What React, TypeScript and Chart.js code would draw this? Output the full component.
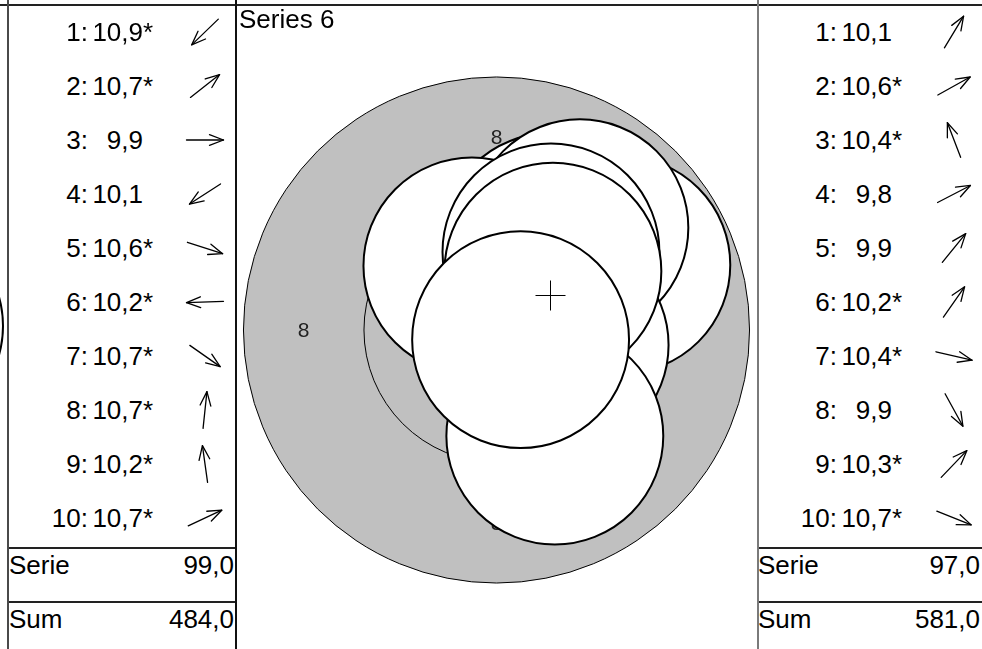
import React, { useEffect, useRef } from "react";
import { Chart, registerables } from "chart.js";

Chart.register(...registerables);

// ---------- data ----------
const seriesTitle = "Series 6";

// previous series (left panel)
const leftScores = [10.9, 10.7, 9.9, 10.1, 10.6, 10.2, 10.7, 10.7, 10.2, 10.7];
const leftArrowAngles = [224, 38, 0, 213, -18, 182, -35, 84, 98, 25]; // degrees, direction of the hit
const leftRunningSum = 484.0;

// current series (right panel + target)
const rightScores = [10.1, 10.6, 10.4, 9.8, 9.9, 10.2, 10.4, 9.9, 10.3, 10.7];
const shotX = [1.11, 0.79, -0.51, 2.6, 1.73, 1.13, 1.32, 1.21, 1.17, 0.5]; // mm
const shotY = [1.83, 0.44, 1.33, 1.35, 2.12, 1.62, -0.31, -2.2, 1.22, -0.2]; // mm
const rightRunningSum = 581.0;

// target geometry (mm)
const ringRadii = [5.25, 2.75, 0.25]; // ring 8, 9, 10
const ringLabelText = "8";
const ringLabelRadius = 4.0;
const shotRadius = 2.25;

// visible window of the target (mm)
const X_HALF = 5.384;
const Y_HALF = 6.722;

const FONT = '"Liberation Sans", Arial, Helvetica, sans-serif';
const TEXT_SIZE = 26;

const fmt = (v: number) => v.toFixed(1).replace(".", ",");
const isInner = (v: number) => v >= 10.2;
const serieTotal = (arr: number[]) => arr.reduce((s, v) => s + Math.floor(v), 0);

const radiusPx = (chart: any) => {
  const s = chart && chart.scales && chart.scales.x;
  if (!s || !s.width) return 0;
  const r = Math.abs(s.getPixelForValue(shotRadius) - s.getPixelForValue(0));
  return isFinite(r) ? r : 0;
};

const targetPlugin = {
  id: "targetRings",
  beforeDatasetsDraw(chart: any) {
    const { ctx, scales } = chart;
    const x = scales.x;
    const y = scales.y;
    const cx = x.getPixelForValue(0);
    const cy = y.getPixelForValue(0);
    const pxPerMm = x.getPixelForValue(1) - cx;
    ctx.save();
    ringRadii.forEach((r, i) => {
      ctx.beginPath();
      ctx.arc(cx, cy, r * pxPerMm, 0, Math.PI * 2);
      if (i === 0) {
        ctx.fillStyle = "#c0c0c0";
        ctx.fill();
      }
      ctx.lineWidth = 1;
      ctx.strokeStyle = "#000";
      ctx.stroke();
    });
    ctx.font = `21px ${FONT}`;
    ctx.fillStyle = "#222";
    ctx.textAlign = "center";
    ctx.textBaseline = "middle";
    const dirs = [
      [1, 0],
      [-1, 0],
      [0, 1],
      [0, -1],
    ];
    dirs.forEach(([dx, dy]) => {
      ctx.fillText(
        ringLabelText,
        x.getPixelForValue(dx * ringLabelRadius),
        y.getPixelForValue(dy * ringLabelRadius) + 1
      );
    });
    ctx.restore();
  },
  afterDatasetsDraw(chart: any) {
    const { ctx, scales } = chart;
    const mx = shotX.reduce((a, b) => a + b, 0) / shotX.length;
    const my = shotY.reduce((a, b) => a + b, 0) / shotY.length;
    const px = Math.round(scales.x.getPixelForValue(mx)) + 0.5;
    const py = Math.round(scales.y.getPixelForValue(my)) + 0.5;
    const arm = 15;
    ctx.save();
    ctx.strokeStyle = "#000";
    ctx.lineWidth = 1;
    ctx.beginPath();
    ctx.moveTo(px - arm, py);
    ctx.lineTo(px + arm, py);
    ctx.moveTo(px, py - arm);
    ctx.lineTo(px, py + arm);
    ctx.stroke();
    ctx.restore();
  },
};

function Arrow({ cx, cy, angle }: { cx: number; cy: number; angle: number }) {
  const L = 37;
  const a = (angle * Math.PI) / 180;
  const ux = Math.cos(a);
  const uy = -Math.sin(a);
  const c = 24;
  const tx = c + (ux * L) / 2;
  const ty = c + (uy * L) / 2;
  const sx = c - (ux * L) / 2;
  const sy = c - (uy * L) / 2;
  const head = 15;
  const spread = (21 * Math.PI) / 180;
  const back = Math.atan2(-uy, -ux);
  const h1x = tx + head * Math.cos(back + spread);
  const h1y = ty + head * Math.sin(back + spread);
  const h2x = tx + head * Math.cos(back - spread);
  const h2y = ty + head * Math.sin(back - spread);
  return (
    <svg
      width={48}
      height={48}
      style={{ position: "absolute", left: cx - c, top: cy - c, overflow: "visible" }}
    >
      <g stroke="#000" strokeWidth={1.3} fill="none" strokeLinecap="round" strokeLinejoin="round">
        <line x1={sx} y1={sy} x2={tx} y2={ty} />
        <polyline points={`${h1x},${h1y} ${tx},${ty} ${h2x},${h2y}`} />
      </g>
    </svg>
  );
}

function Panel({
  x,
  width,
  scores,
  angles,
  runningSum,
}: {
  x: number;
  width: number;
  scores: number[];
  angles: number[];
  runningSum: number;
}) {
  const rowText: React.CSSProperties = {
    position: "absolute",
    fontSize: TEXT_SIZE,
    lineHeight: "28px",
    whiteSpace: "nowrap",
  };
  return (
    <>
      {scores.map((s, i) => {
        const top = 18 + 54 * i;
        const cy = 31.7 + 54 * i;
        return (
          <React.Fragment key={i}>
            <div style={{ ...rowText, left: x, width: 80, top, textAlign: "right" }}>{`${i + 1}:`}</div>
            <div style={{ ...rowText, left: x, width: 135, top, textAlign: "right" }}>{fmt(s)}</div>
            {isInner(s) && <div style={{ ...rowText, left: x + 135, top }}>*</div>}
            <Arrow cx={x + 197} cy={cy} angle={angles[i]} />
          </React.Fragment>
        );
      })}
      <div style={{ position: "absolute", left: x + 1, top: 547, width: width - 1, height: 2, background: "#222" }} />
      <div style={{ position: "absolute", left: x + 1, top: 601, width: width - 1, height: 2, background: "#222" }} />
      <div style={{ ...rowText, left: x + 1, top: 551 }}>Serie</div>
      <div style={{ ...rowText, left: x, width: width - 2, top: 551, textAlign: "right" }}>
        {fmt(serieTotal(scores))}
      </div>
      <div style={{ ...rowText, left: x + 1, top: 605 }}>Sum</div>
      <div style={{ ...rowText, left: x, width: width - 2, top: 605, textAlign: "right" }}>
        {fmt(runningSum)}
      </div>
    </>
  );
}

export default function App() {
  const canvasRef = useRef<HTMLCanvasElement | null>(null);

  useEffect(() => {
    const canvas = canvasRef.current;
    if (!canvas) return;
    const chart = new Chart(canvas, {
      type: "scatter",
      data: {
        datasets: [
          {
            label: seriesTitle,
            data: shotX.map((v, i) => ({ x: v, y: shotY[i] })),
            backgroundColor: "#ffffff",
            borderColor: "#000000",
            borderWidth: 2,
            pointRadius: (ctx: any) => radiusPx(ctx.chart),
            pointHoverRadius: (ctx: any) => radiusPx(ctx.chart),
            pointHoverBorderWidth: 2,
            showLine: false,
            clip: false,
          } as any,
        ],
      },
      options: {
        animation: false,
        responsive: false,
        maintainAspectRatio: false,
        events: [],
        layout: { padding: 0, autoPadding: false },
        scales: {
          x: { type: "linear", min: -X_HALF, max: X_HALF, display: false },
          y: { type: "linear", min: -Y_HALF, max: Y_HALF, display: false },
        },
        plugins: {
          legend: { display: false },
          tooltip: { enabled: false },
          title: { display: false },
        },
      },
      plugins: [targetPlugin],
    });
    return () => chart.destroy();
  }, []);

  const rightAngles = shotX.map((v, i) => (Math.atan2(shotY[i], v) * 180) / Math.PI);

  return (
    <div
      style={{
        position: "absolute",
        left: 0,
        top: 0,
        width: 982,
        height: 649,
        overflow: "hidden",
        background: "#fff",
        color: "#000",
        fontFamily: FONT,
      }}
    >
      {/* fragment of the previous target at the far left */}
      <div
        style={{
          position: "absolute",
          left: -212,
          top: 218,
          width: 216,
          height: 216,
          border: "2px solid #000",
          borderRadius: "50%",
          boxSizing: "border-box",
        }}
      />
      <canvas
        ref={canvasRef}
        width={519}
        height={648}
        style={{ position: "absolute", left: 237, top: 6, width: 519, height: 648 }}
      />
      <div
        style={{
          position: "absolute",
          left: 239,
          top: 5,
          fontSize: TEXT_SIZE,
          lineHeight: "28px",
          whiteSpace: "nowrap",
        }}
      >
        {seriesTitle}
      </div>

      <Panel x={8} width={228} scores={leftScores} angles={leftArrowAngles} runningSum={leftRunningSum} />
      <Panel x={757} width={225} scores={rightScores} angles={rightAngles} runningSum={rightRunningSum} />

      {/* frame lines */}
      <div style={{ position: "absolute", left: 0, top: 4, width: 982, height: 2, background: "#222" }} />
      <div style={{ position: "absolute", left: 7, top: 0, width: 2, height: 649, background: "#4a4a4a" }} />
      <div style={{ position: "absolute", left: 235, top: 0, width: 2, height: 649, background: "#111" }} />
      <div style={{ position: "absolute", left: 757, top: 0, width: 2, height: 649, background: "#7a7a7a" }} />
    </div>
  );
}
